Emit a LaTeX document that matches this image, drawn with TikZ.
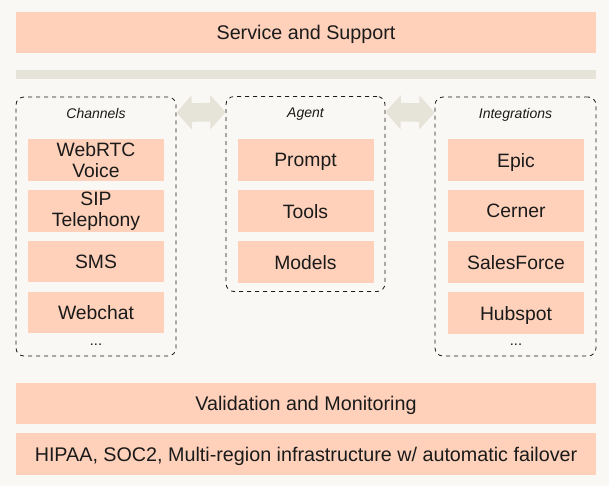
\documentclass[tikz,border=0pt]{standalone}
\usepackage{fontspec}
\setmainfont{Liberation Sans}
\usetikzlibrary{arrows.meta}
\definecolor{bg}{HTML}{F9F8F4}
\definecolor{peach}{HTML}{FFD1BA}
\definecolor{sand}{HTML}{E6E3D9}
\definecolor{ink}{HTML}{1A1A1A}
\tikzset{
  block/.style={fill=peach, text=ink, inner sep=0pt, minimum width=435pt, minimum height=31pt, text depth=0pt, font=\fontsize{14.8}{16}\selectfont},
  item/.style={block, minimum width=102pt, minimum height=31pt, font=\fontsize{14.5}{16}\selectfont},
  twoline/.style={item, text depth=, align=center, font=\fontsize{14.5}{15.8}\selectfont},
  group/.style={draw=ink, dashed, line width=0.6pt, rounded corners=6pt, inner sep=0pt},
  title/.style={text=ink, text depth=0pt, font=\fontsize{10.5}{12}\selectfont\itshape},
  more/.style={text=ink, font=\fontsize{11}{12}\selectfont},
  link/.style={sand, line width=14pt, {Triangle[length=11.5pt, width=25pt]}-{Triangle[length=11.5pt, width=25pt]}}
}
\begin{document}
\begin{tikzpicture}[x=0.75pt, y=-0.75pt]
    \fill[bg] (0,0) rectangle (609,486);
    \useasboundingbox (0,0) rectangle (609,486);

    \node[block] (support) at (306,32.5) {Service and Support};
    \node[block, fill=sand, minimum height=6.75pt] (bar) at (306,74.5) {};

    % three groups
    \node[group, minimum width=120pt, minimum height=194.25pt] (channels) at (96,226.5) {};
    \node[group, minimum width=119.25pt, minimum height=146.25pt] (agent) at (305.5,194) {};
    \node[group, minimum width=120.75pt, minimum height=194.25pt] (integrations) at (515.5,226.5) {};

    \node[title] (chantitle) at (96,113) {Channels};
    \node[title] (agenttitle) at (305.5,113) {Agent};
    \node[title] (integtitle) at (515.5,113) {Integrations};

    \node[twoline] (webrtc) at (96,160) {WebRTC\\Voice};
    \node[twoline] (sip) at (96,211) {SIP\\Telephony};
    \node[item] (sms) at (96,261.5) {SMS};
    \node[item] (webchat) at (96,312.5) {Webchat};
    \node[more] (chanmore) at (96,345) {...};

    \node[item] (prompt) at (305.5,160) {Prompt};
    \node[item] (tools) at (305.5,211) {Tools};
    \node[item] (models) at (305.5,262) {Models};

    \node[item] (epic) at (516,160) {Epic};
    \node[item] (cerner) at (516,211) {Cerner};
    \node[item] (salesforce) at (516,262) {SalesForce};
    \node[item] (hubspot) at (516,313) {Hubspot};
    \node[more] (integmore) at (516,345) {...};

    \path [link] ([yshift=-12pt]channels.north east) edge ([yshift=-12pt]agent.north west);
    \path [link] ([yshift=-12pt]agent.north east) edge ([yshift=-12pt]integrations.north west);

    \node[block] (validation) at (306,403.5) {Validation and Monitoring};
    \node[block] (hipaa) at (306,454) {HIPAA, SOC2, Multi-region infrastructure w/ automatic failover};
\end{tikzpicture}
\end{document}
